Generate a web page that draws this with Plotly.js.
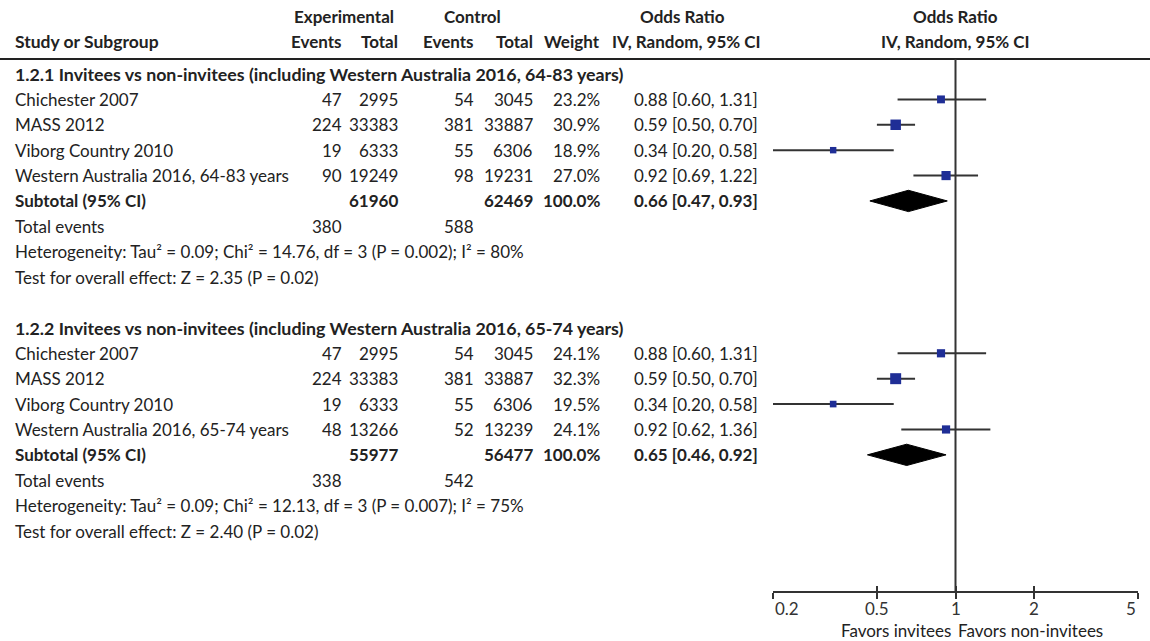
<!DOCTYPE html>
<html>
<head>
<meta charset="utf-8">
<script src="https://cdn.plot.ly/plotly-3.0.1.min.js"></script>
<style>html,body{margin:0;padding:0;background:#fff;}#chart{width:1150px;height:641px;}</style>
</head>
<body>
<div id="chart"></div>
<script>
// ---------- DATA ----------
const groupTitles = [
  '1.2.1 Invitees vs non-invitees (including Western Australia 2016, 64-83 years)',
  '1.2.2 Invitees vs non-invitees (including Western Australia 2016, 65-74 years)'
];
const studies1   = ['Chichester 2007', 'MASS 2012', 'Viborg Country 2010', 'Western Australia 2016, 64-83 years'];
const expEvents1 = [47, 224, 19, 90];
const expTotal1  = [2995, 33383, 6333, 19249];
const ctlEvents1 = [54, 381, 55, 98];
const ctlTotal1  = [3045, 33887, 6306, 19231];
const weight1    = [23.2, 30.9, 18.9, 27.0];
const or1        = [0.88, 0.59, 0.34, 0.92];
const lo1        = [0.60, 0.50, 0.20, 0.69];
const hi1        = [1.31, 0.70, 0.58, 1.22];
const subtotal1  = {expTotal: 61960, ctlTotal: 62469, weight: 100.0, or: 0.66, lo: 0.47, hi: 0.93};
const totalEvents1 = [380, 588];
const het1  = 'Heterogeneity: Tau² = 0.09; Chi² = 14.76, df = 3 (P = 0.002); I² = 80%';
const test1 = 'Test for overall effect: Z = 2.35 (P = 0.02)';

const studies2   = ['Chichester 2007', 'MASS 2012', 'Viborg Country 2010', 'Western Australia 2016, 65-74 years'];
const expEvents2 = [47, 224, 19, 48];
const expTotal2  = [2995, 33383, 6333, 13266];
const ctlEvents2 = [54, 381, 55, 52];
const ctlTotal2  = [3045, 33887, 6306, 13239];
const weight2    = [24.1, 32.3, 19.5, 24.1];
const or2        = [0.88, 0.59, 0.34, 0.92];
const lo2        = [0.60, 0.50, 0.20, 0.62];
const hi2        = [1.31, 0.70, 0.58, 1.36];
const subtotal2  = {expTotal: 55977, ctlTotal: 56477, weight: 100.0, or: 0.65, lo: 0.46, hi: 0.92};
const totalEvents2 = [338, 542];
const het2  = 'Heterogeneity: Tau² = 0.09; Chi² = 12.13, df = 3 (P = 0.007); I² = 75%';
const test2 = 'Test for overall effect: Z = 2.40 (P = 0.02)';

const tickVals   = [0.2, 0.5, 1, 2, 5];
const tickLabels = ['0.2', '0.5', '1', '2', '5'];
const favorsLeft  = 'Favors invitees';
const favorsRight = 'Favors non-invitees';

// ---------- LAYOUT CONSTANTS ----------
const W = 1150, H = 641;
const FONT = 'Lato, "Liberation Sans", Arial, sans-serif';
const FS = 17;
const TXT = '#222222';
const rowTop = 74, rowStep = 25.39;          // pixel of row 0 and spacing
const col = {name: 13, expEv: 344, expTot: 400, ctlEv: 476, ctlTot: 535, weight: 602, orTxt: 760};
const plotL = 773, plotR = 1138, axisY = 592, ruleY = 59;
const px = v => v / W;
const py = p => 1 - p / H;

const groups = [
  {title: groupTitles[0], start: 0, studies: studies1, ee: expEvents1, et: expTotal1, ce: ctlEvents1, ct: ctlTotal1,
   w: weight1, or: or1, lo: lo1, hi: hi1, sub: subtotal1, tev: totalEvents1, het: het1, test: test1},
  {title: groupTitles[1], start: 10, studies: studies2, ee: expEvents2, et: expTotal2, ce: ctlEvents2, ct: ctlTotal2,
   w: weight2, or: or2, lo: lo2, hi: hi2, sub: subtotal2, tev: totalEvents2, het: het2, test: test2}
];

const ann = [];
function T(text, xpix, y, anchor, bold, yref, size) {
  ann.push({text: bold ? '<b>' + text + '</b>' : text, x: px(xpix), xref: 'paper', y: y, yref: yref || 'y',
    xanchor: anchor, yanchor: 'middle', showarrow: false,
    font: {family: FONT, size: size || FS, color: TXT}});
}
const orFmt = (o, l, h) => o.toFixed(2) + ' [' + l.toFixed(2) + ', ' + h.toFixed(2) + ']';

// headers
const h1 = py(17), h2 = py(41);
T('Experimental', 344, h1, 'center', true, 'paper');
T('Control', 472, h1, 'center', true, 'paper');
T('Odds Ratio', 682, h1, 'center', true, 'paper');
T('Odds Ratio', 955, h1, 'center', true, 'paper');
T('Study or Subgroup', col.name, h2, 'left', true, 'paper', 17.5);
T('Events', col.expEv, h2, 'right', true, 'paper');
T('Total', col.expTot, h2, 'right', true, 'paper');
T('Events', col.ctlEv, h2, 'right', true, 'paper');
T('Total', col.ctlTot, h2, 'right', true, 'paper');
T('Weight', col.weight, h2, 'right', true, 'paper');
T('IV, Random, 95% CI', 686, h2, 'center', true, 'paper');
T('IV, Random, 95% CI', 955, h2, 'center', true, 'paper');

const ciX = [], ciY = [], sqX = [], sqY = [], sqS = [];
const traces = [];
groups.forEach(g => {
  const s = g.start;
  T(g.title, col.name, s, 'left', true, 'y', 17.8);
  g.studies.forEach((name, k) => {
    const r = s + 1 + k;
    T(name, col.name, r, 'left');
    T(String(g.ee[k]), col.expEv, r, 'right');
    T(String(g.et[k]), col.expTot, r, 'right');
    T(String(g.ce[k]), col.ctlEv, r, 'right');
    T(String(g.ct[k]), col.ctlTot, r, 'right');
    T(g.w[k].toFixed(1) + '%', col.weight, r, 'right');
    T(orFmt(g.or[k], g.lo[k], g.hi[k]), col.orTxt, r, 'right');
    ciX.push(g.lo[k], g.hi[k], null); ciY.push(r, r, null);
    sqX.push(g.or[k]); sqY.push(r); sqS.push(0.34 * g.w[k]);
  });
  const rs = s + 1 + g.studies.length;
  T('Subtotal (95% CI)', col.name, rs, 'left', true);
  T(String(g.sub.expTotal), col.expTot, rs, 'right', true);
  T(String(g.sub.ctlTotal), col.ctlTot, rs, 'right', true);
  T(g.sub.weight.toFixed(1) + '%', col.weight, rs, 'right', true);
  T(orFmt(g.sub.or, g.sub.lo, g.sub.hi), col.orTxt, rs, 'right', true);
  T('Total events', col.name, rs + 1, 'left');
  T(String(g.tev[0]), col.expEv, rs + 1, 'right');
  T(String(g.tev[1]), col.ctlEv, rs + 1, 'right');
  T(g.het, col.name, rs + 2, 'left');
  T(g.test, col.name, rs + 3, 'left');
  const dh = 0.42;
  traces.push({type: 'scatter', mode: 'lines', xaxis: 'x2', yaxis: 'y',
    x: [g.sub.lo, g.sub.or, g.sub.hi, g.sub.or, g.sub.lo],
    y: [rs, rs - dh, rs, rs + dh, rs],
    fill: 'toself', fillcolor: '#000000', line: {color: '#000000', width: 1},
    hoverinfo: 'skip', showlegend: false});
});

traces.unshift({type: 'scatter', mode: 'lines', xaxis: 'x2', yaxis: 'y', x: ciX, y: ciY,
  line: {color: '#333333', width: 2}, connectgaps: false, hoverinfo: 'skip', showlegend: false});
traces.push({type: 'scatter', mode: 'markers', xaxis: 'x2', yaxis: 'y', x: sqX, y: sqY,
  marker: {symbol: 'square', size: sqS, color: '#1f2e96', opacity: 1, line: {width: 0}},
  hoverinfo: 'skip', showlegend: false});

// tick labels & favors
tickVals.forEach((v, k) => {
  ann.push({text: tickLabels[k], x: Math.log10(v), xref: 'x2', y: py(608), yref: 'paper',
    xanchor: k === 0 ? 'left' : (k === tickVals.length - 1 ? 'right' : 'center'), yanchor: 'middle',
    showarrow: false, font: {family: FONT, size: FS, color: '#333'}});
});
ann.push({text: favorsLeft, x: 0, xref: 'x2', xshift: -3, y: py(630), yref: 'paper', xanchor: 'right', yanchor: 'middle',
  showarrow: false, font: {family: FONT, size: FS, color: TXT}});
ann.push({text: favorsRight, x: 0, xref: 'x2', xshift: 0, y: py(630), yref: 'paper', xanchor: 'left', yanchor: 'middle',
  showarrow: false, font: {family: FONT, size: FS, color: TXT}});

const yTop = -rowTop / rowStep, yBot = (H - rowTop) / rowStep;
const xr = [Math.log10(tickVals[0]), Math.log10(tickVals[tickVals.length - 1])];
const layout = {
  width: W, height: H, margin: {l: 0, r: 0, t: 0, b: 0},
  paper_bgcolor: '#ffffff', plot_bgcolor: 'rgba(0,0,0,0)',
  showlegend: false,
  xaxis: {range: [0, W], visible: false, domain: [0, 1], fixedrange: true},
  yaxis: {range: [yBot, yTop], visible: false, domain: [0, 1], fixedrange: true},
  xaxis2: {type: 'log', range: xr, domain: [px(plotL), px(plotR)], anchor: 'free', position: 1 - axisY / H,
    showline: true, linecolor: '#333333', linewidth: 2, ticks: 'outside', ticklen: 6, tickwidth: 2,
    tickcolor: '#333333', tickvals: tickVals, showticklabels: false, showgrid: false, zeroline: false, fixedrange: true},
  xaxis3: {type: 'log', range: xr, overlaying: 'x2', anchor: 'free', position: 1 - axisY / H,
    showline: false, ticks: 'inside', ticklen: 6, tickwidth: 2, tickcolor: '#333333', tickvals: tickVals,
    showticklabels: false, showgrid: false, zeroline: false, fixedrange: true},
  shapes: [
    {type: 'line', xref: 'paper', yref: 'paper', x0: 0, x1: 1, y0: py(ruleY), y1: py(ruleY),
     line: {color: '#222222', width: 2}},
    {type: 'line', xref: 'x2', yref: 'paper', x0: 1, x1: 1, y0: py(ruleY), y1: py(axisY),
     line: {color: '#333333', width: 2}}
  ],
  annotations: ann
};
traces.push({type: 'scatter', mode: 'markers', xaxis: 'x3', yaxis: 'y', x: [], y: [], hoverinfo: 'skip', showlegend: false});
Plotly.newPlot('chart', traces, layout, {displayModeBar: false, staticPlot: true});
</script>
</body>
</html>
